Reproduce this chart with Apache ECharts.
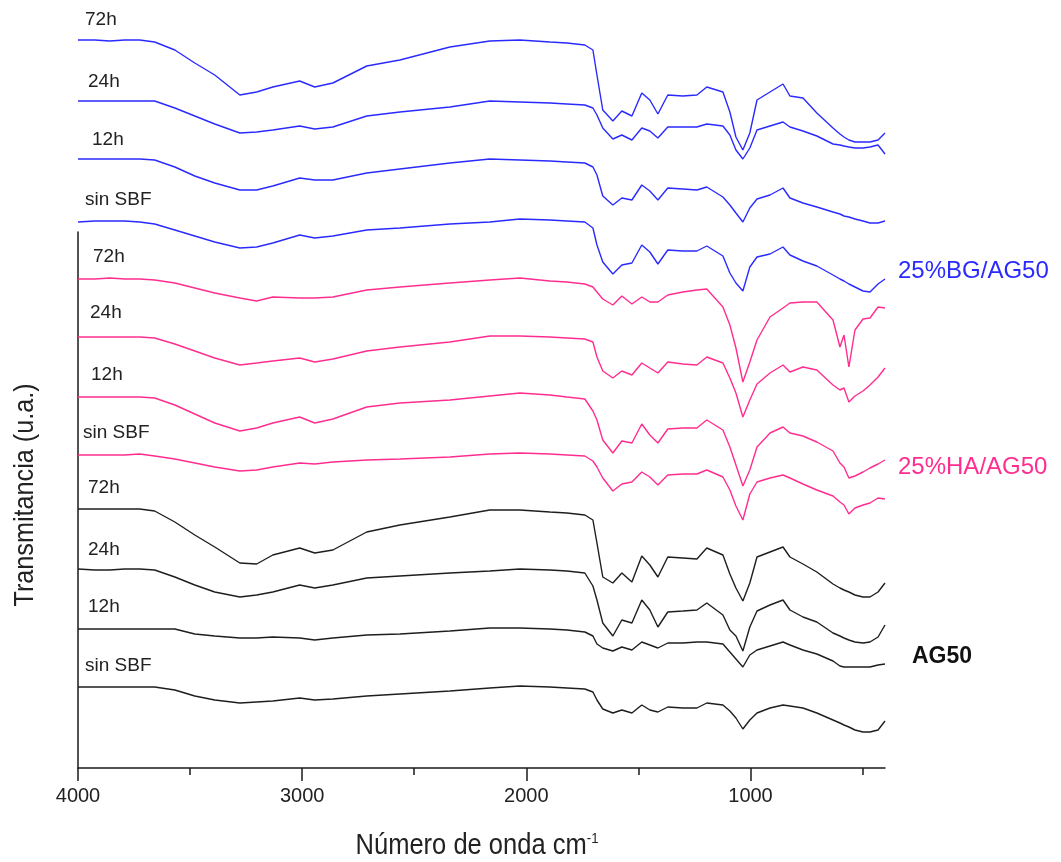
<!DOCTYPE html>
<html>
<head>
<meta charset="utf-8">
<script src="https://cdn.jsdelivr.net/npm/echarts/dist/echarts.min.js"></script>
<style>
  html, body { margin: 0; padding: 0; background: #fff; }
  #chart { width: 1061px; height: 862px; }
</style>
</head>
<body>
<div id="chart"></div>
<script>
// Wavenumber (cm-1) sample positions
const wavenumber = [4000,3925,3858,3792,3725,3658,3568,3479,3390,3278,3203,3131,3011,2944,2863,2712,2564,2341,2163,2029,1895,1819,1739,1703,1685,1659,1614,1574,1529,1485,1449,1413,1369,1302,1239,1195,1123,1092,1065,1034,1003,971,913,855,824,766,704,632,601,583,561,534,498,467,431,400];

// Transmittance (a.u., stacked) — 25%BG/AG50
const bg72 = [728,728,727,728,728,726,718,705,693,673,676,681,687,681,685,702,708,721,727,728,726,725,723,718,693,658,647,657,652,675,668,654,673,672,673,681,676,656,631,618,635,668,676,684,672,670,655,640,634,631,628,626,626,626,628,635];
const bg24 = [667,667,667,667,667,667,660,652,644,635,636,638,642,639,641,652,656,661,667,666,665,664,663,660,653,640,629,633,628,640,637,630,641,641,641,644,642,633,618,609,620,638,642,646,641,637,632,624,623,622,621,620,620,621,623,614];
const bg12 = [609,609,609,609,609,608,601,592,585,578,578,582,590,588,588,595,599,605,609,608,607,606,605,601,593,572,563,570,568,583,577,568,580,579,578,581,571,563,555,546,560,569,573,580,570,565,561,556,554,552,551,549,547,545,545,547];
const bg0  = [546,547,547,547,546,544,538,532,526,520,521,525,533,530,532,538,540,544,546,549,548,547,546,540,523,506,494,503,505,523,516,504,518,517,517,522,512,495,485,477,501,511,514,521,513,507,502,493,489,487,484,481,477,476,484,489];

// 25%HA/AG50
const ha72 = [489,489,490,489,489,488,485,480,475,470,467,471,470,470,471,478,481,485,488,490,487,486,484,481,476,469,463,472,464,471,466,466,473,476,478,479,461,443,420,386,406,428,451,460,465,466,466,448,421,433,401,438,449,450,461,460];
const ha24 = [431,431,431,431,431,430,424,417,410,403,405,407,410,406,409,417,421,426,432,432,431,430,429,426,411,397,390,397,393,405,400,395,406,404,403,411,405,390,375,351,368,384,395,403,396,401,398,383,378,380,366,372,377,383,391,400];
const ha12 = [371,371,371,371,371,370,363,354,345,337,340,345,351,345,349,361,365,368,372,375,373,371,369,357,348,328,315,327,325,344,333,325,339,340,340,348,338,321,303,282,298,321,335,341,335,332,326,317,305,301,290,292,296,300,304,308];
const ha0  = [313,313,313,313,314,312,309,305,301,297,298,301,305,304,306,308,309,311,314,315,314,313,312,307,301,290,277,284,286,296,291,283,293,294,294,298,291,278,262,248,274,286,290,293,290,284,278,272,266,263,254,260,263,265,270,269];

// AG50
const ag72 = [259,259,259,259,259,257,246,233,221,205,204,213,220,215,218,236,243,251,258,258,256,255,253,248,225,191,185,195,186,212,203,191,211,210,209,220,213,194,180,167,185,211,216,221,211,204,196,184,180,178,176,173,171,171,176,185];
const ag24 = [199,198,198,199,199,198,191,183,176,171,173,176,183,180,183,190,192,195,197,199,198,197,195,182,168,145,132,148,145,168,158,141,156,157,158,165,153,138,132,117,141,157,163,168,158,151,146,135,132,130,128,126,125,126,131,143];
const ag12 = [139,139,139,139,139,139,139,134,132,130,130,131,130,128,130,133,134,137,140,140,139,138,136,132,124,120,117,121,118,126,123,120,125,125,126,126,124,116,109,101,113,118,122,126,123,118,114,107,102,101,101,101,101,101,103,104];
const ag0  = [81,81,81,81,81,81,78,72,68,65,66,67,70,68,69,72,74,77,80,82,81,80,79,76,68,59,55,58,55,63,58,56,61,60,60,65,63,57,50,39,48,55,60,63,62,60,55,48,45,43,41,38,36,36,38,47];

const majorTicks = [1000, 2000, 3000, 4000];
const minorTicks = [500, 1500, 2500, 3500];
const timeLabels = ['72h', '24h', '12h', 'sin SBF'];
const groupNames = ['25%BG/AG50', '25%HA/AG50', 'AG50'];

const BLUE = '#2a2aff';
const PINK = '#ff2d8f';
const BLACK = '#1e1e1e';
const FONT = 'Liberation Sans, Arial, sans-serif';

const groups = [
  { color: BLUE,  series: [bg72, bg24, bg12, bg0] },
  { color: PINK,  series: [ha72, ha24, ha12, ha0] },
  { color: BLACK, series: [ag72, ag24, ag12, ag0] }
];

const series = [];
groups.forEach((g, gi) => {
  g.series.forEach((vals, si) => {
    series.push({
      name: groupNames[gi] + ' ' + timeLabels[si],
      type: 'line',
      showSymbol: false,
      clip: false,
      silent: true,
      lineStyle: { color: g.color, width: 1.4 },
      data: vals.map((v, i) => [wavenumber[i], v])
    });
  });
});

// label layout (pixel positions of annotation texts)
const labelPos = [
  [[85, 20], [88, 82], [92, 140], [85, 200]],
  [[93, 257], [90, 313], [91, 375], [83, 433]],
  [[88, 488], [88, 550], [88, 607], [85, 666]]
];
const graphic = [];
labelPos.forEach((grp) => {
  grp.forEach((p, si) => {
    graphic.push({
      type: 'text', x: p[0], y: p[1],
      style: { text: timeLabels[si], fill: '#222', fontSize: 19, fontFamily: FONT, verticalAlign: 'middle', align: 'left' }
    });
  });
});
graphic.push({ type: 'text', x: 898, y: 271, style: { text: groupNames[0], fill: BLUE, fontSize: 24, fontFamily: FONT, verticalAlign: 'middle' } });
graphic.push({ type: 'text', x: 898, y: 467, style: { text: groupNames[1], fill: PINK, fontSize: 24, fontFamily: FONT, verticalAlign: 'middle' } });
graphic.push({ type: 'text', x: 912, y: 657, style: { text: groupNames[2], fill: '#111', fontSize: 23, fontWeight: 'bold', fontFamily: FONT, verticalAlign: 'middle' } });
// axis titles
graphic.push({
  type: 'text', x: 477, y: 846, scaleX: 0.88,
  style: {
    text: 'Número de onda cm{s|-1}', fill: '#222', fontSize: 29, fontFamily: FONT,
    align: 'center', verticalAlign: 'middle',
    rich: { s: { fontSize: 15, fontFamily: FONT, fill: '#222', verticalAlign: 'top' } }
  }
});
graphic.push({
  type: 'text', x: 25, y: 495, rotation: Math.PI / 2, scaleX: 0.9,
  style: { text: 'Transmitancia (u.a.)', fill: '#222', fontSize: 28, fontFamily: FONT, align: 'center', verticalAlign: 'middle' }
});

const axisColor = '#1a1a1a';
const option = {
  animation: false,
  backgroundColor: '#fff',
  grid: { left: 78, right: 176, top: 232, bottom: 94 },
  xAxis: [
    {
      type: 'value', min: 400, max: 4000, inverse: true, position: 'bottom',
      axisLine: { show: true, lineStyle: { color: axisColor, width: 1.5 } },
      axisTick: { show: true, customValues: majorTicks, length: 13, lineStyle: { color: axisColor, width: 1.5 } },
      axisLabel: { customValues: majorTicks, margin: 18, fontSize: 20, color: '#222', fontFamily: FONT,
        formatter: (v) => String(Math.round(v)) },
      splitLine: { show: false }
    },
    {
      type: 'value', min: 400, max: 4000, inverse: true, position: 'bottom', offset: 0,
      axisLine: { show: false },
      axisTick: { show: true, customValues: minorTicks, length: 7, lineStyle: { color: axisColor, width: 1.5 } },
      axisLabel: { show: false },
      splitLine: { show: false }
    }
  ],
  yAxis: {
    type: 'value', min: 0, max: 536,
    axisLine: { show: true, lineStyle: { color: axisColor, width: 1.5 } },
    axisTick: { show: false }, axisLabel: { show: false }, splitLine: { show: false }
  },
  series: series,
  graphic: graphic
};

const chart = echarts.init(document.getElementById('chart'), null, { renderer: 'canvas' });
chart.setOption(option);
</script>
</body>
</html>
